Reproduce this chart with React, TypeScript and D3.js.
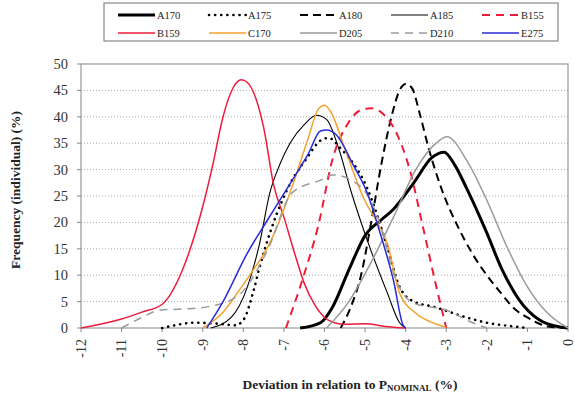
import React from 'react'
import * as d3 from 'd3'

type Pt = [number, number]

// values (deviation %, frequency %)
const A170: Pt[] = [[-6.6,0],[-6.1,1],[-5.8,4],[-5.4,11],[-5,17.5],[-4.6,20.5],[-4.3,22.5],[-3.8,27.5],[-3.35,32.3],[-3.05,33.3],[-2.8,31],[-2.5,26.5],[-2,18],[-1.65,11.5],[-1.2,5.3],[-0.7,1.5],[-0.2,0.2],[0,0]]
const A175: Pt[] = [[-10,0],[-9.7,0.5],[-9.2,1],[-8.6,0.8],[-8.2,0.5],[-8,1.5],[-7.75,7],[-7.6,11.5],[-7.3,19],[-6.8,28],[-6.45,32],[-6.1,35.5],[-5.9,36],[-5.6,34],[-4.95,26.5],[-4.45,15.3],[-4.15,7.8],[-3.8,5],[-3.3,4],[-2.5,2],[-2,1],[-1.35,0.3],[-1,0]]
const A180: Pt[] = [[-5.6,0],[-5.35,4],[-5.1,10],[-4.85,20],[-4.6,31],[-4.35,40],[-4.15,45],[-4,46.2],[-3.85,45.5],[-3.65,40.5],[-3.45,34.5],[-3.1,26],[-2.7,19],[-2.35,14],[-2,10],[-1.65,6.6],[-1.3,3.5],[-1,2],[-0.5,0.3],[0,0]]
const A185: Pt[] = [[-8.8,0],[-8.3,2],[-7.9,7.8],[-7.6,16],[-7.35,25.5],[-7.1,31],[-6.85,35],[-6.5,38.5],[-6.2,40.3],[-5.95,39.5],[-5.65,34],[-5.35,26],[-4.95,16.7],[-4.45,6.6],[-4.15,1],[-4,0]]
const B155: Pt[] = [[-6.95,0],[-6.55,9],[-6.15,19.5],[-5.8,32],[-5.4,39],[-5.1,41.3],[-4.85,41.6],[-4.55,40.5],[-4.3,38],[-3.9,30],[-3.57,19],[-3.25,8],[-3,0]]
const B159: Pt[] = [[-12,0],[-11,1.7],[-10.5,3],[-10,4.5],[-9.5,11],[-9,23],[-8.75,31],[-8.5,40],[-8.25,45.5],[-8.05,47],[-7.9,46.5],[-7.5,38],[-7.25,27],[-7,21],[-6.75,14.5],[-6.5,8.5],[-6.25,4.5],[-6,2],[-5.75,1],[-5.5,0.7],[-5,0.8],[-4.5,0.3],[-4,0]]
const C170: Pt[] = [[-9,0],[-8.5,3],[-8.15,6.6],[-7.8,10.5],[-7.4,15.3],[-6.8,26.7],[-6.4,36],[-6.15,41.5],[-6,42.2],[-5.85,41],[-5.5,34],[-5,24],[-4.7,20],[-4.45,16],[-4.15,6.6],[-3.75,2.8],[-3.4,1.2],[-3.05,0.2],[-3,0]]
const D205: Pt[] = [[-5.95,0],[-5.4,5],[-4.95,11],[-4.3,21],[-3.75,30],[-3.25,35],[-2.98,36.2],[-2.5,31.8],[-2,24.2],[-1.5,15.3],[-1,7.8],[-0.5,2.8],[0,0]]
const D210: Pt[] = [[-11,0],[-10.5,2],[-10.05,3.4],[-9.5,3.6],[-8.9,4],[-8.15,6],[-7.4,14.8],[-6.8,25.6],[-6.1,28],[-5.8,29],[-5.1,26.7],[-4.6,19],[-4.3,10.4],[-3.8,4.7],[-3,3.4],[-2.35,1],[-2,0]]
const E275: Pt[] = [[-8.9,0],[-8.5,5],[-7.9,14.2],[-7.4,20.5],[-6.9,26.7],[-6.4,33],[-6.1,37.3],[-5.95,37.5],[-5.7,36.5],[-5.3,31],[-4.95,25.6],[-4.63,18],[-4.3,9],[-4.06,0.5],[-4,0]]

const xTicks = d3.range(-12, 1)
const yTicks = d3.range(0, 51, 5)

const series = [
  { name: 'A170', data: A170, color: '#000', width: 3, dash: '' },
  { name: 'A175', data: A175, color: '#000', width: 2.6, dash: '0.1 6' },
  { name: 'A180', data: A180, color: '#000', width: 2, dash: '8 5' },
  { name: 'A185', data: A185, color: '#000', width: 1.1, dash: '' },
  { name: 'B155', data: B155, color: '#ee1c3a', width: 2, dash: '8 6' },
  { name: 'B159', data: B159, color: '#ee1c3a', width: 1.5, dash: '' },
  { name: 'C170', data: C170, color: '#f5a12c', width: 1.5, dash: '' },
  { name: 'D205', data: D205, color: '#9a9a9a', width: 1.5, dash: '' },
  { name: 'D210', data: D210, color: '#9a9a9a', width: 1.5, dash: '8 6' },
  { name: 'E275', data: E275, color: '#2a2ad6', width: 1.5, dash: '' },
]

const W = 575
const H = 393
const m = { left: 81, right: 568, top: 64, bottom: 328 }

export default function App() {
  const x = d3.scaleLinear().domain([-12, 0]).range([m.left, m.right])
  const y = d3.scaleLinear().domain([0, 50]).range([m.bottom, m.top])
  const line = d3.line<Pt>().x(d => x(d[0])).y(d => y(d[1])).curve(d3.curveMonotoneX)
  const font = '"Liberation Serif", "Times New Roman", serif'

  return (
    <svg width={W} height={H} style={{ position: 'absolute', left: 0, top: 0, background: '#fff' }} fontFamily={font}>
      {/* grid */}
      {yTicks.filter(t => t > 0 && t < 50).map(t => (
        <line key={t} x1={m.left} x2={m.right} y1={y(t)} y2={y(t)} stroke="#aaa" strokeWidth={1} strokeDasharray="1 2" />
      ))}
      <rect x={m.left} y={m.top} width={m.right - m.left} height={m.bottom - m.top} fill="none" stroke="#999" strokeWidth={1.2} />

      {/* y axis */}
      {yTicks.map(t => (
        <g key={t}>
          <line x1={m.left - 4} x2={m.left} y1={y(t)} y2={y(t)} stroke="#888" />
          <text x={m.left - 13} y={y(t)} dy="0.35em" textAnchor="end" fontSize={14.5} fill="#333">{t}</text>
        </g>
      ))}
      {/* x axis */}
      {xTicks.map(t => (
        <g key={t}>
          <line x1={x(t)} x2={x(t)} y1={m.bottom} y2={m.bottom + 4} stroke="#888" />
          <text transform={`translate(${x(t)},${m.bottom + 11}) rotate(-90)`} dy="0.35em" textAnchor="end" fontSize={14} fill="#333">{t}</text>
        </g>
      ))}

      {/* series */}
      {series.map(s => (
        <path key={s.name} d={line(s.data) || ''} fill="none" stroke={s.color} strokeWidth={s.width}
          strokeDasharray={s.dash || undefined} strokeLinecap={s.name === 'A175' ? 'round' : 'butt'} strokeLinejoin="round" />
      ))}

      {/* titles */}
      <text transform="translate(20,190) rotate(-90)" textAnchor="middle" fontSize={13.5} fontWeight="bold" fill="#222">Frequency (individual) (%)</text>
      <text x={350} y={389} textAnchor="middle" fontSize={13.5} fontWeight="bold" fill="#222">
        Deviation in relation to P<tspan fontSize={9} dy={2}>NOMINAL</tspan><tspan dy={-2}> (%)</tspan>
      </text>

      {/* legend */}
      <rect x={104} y={3} width={454} height={38} fill="#fff" stroke="#888" strokeWidth={1.2} />
      {series.map((s, i) => {
        const col = i % 5
        const row = Math.floor(i / 5)
        const x0 = 118 + col * 91
        const ly = 15 + row * 18
        return (
          <g key={s.name}>
            <line x1={x0} x2={x0 + 37} y1={ly} y2={ly} stroke={s.color} strokeWidth={s.width}
              strokeDasharray={s.dash || undefined} strokeLinecap={s.name === 'A175' ? 'round' : 'butt'} />
            <text x={x0 + 39} y={ly} dy="0.35em" fontSize={10.5} fill="#222">{s.name}</text>
          </g>
        )
      })}
    </svg>
  )
}
